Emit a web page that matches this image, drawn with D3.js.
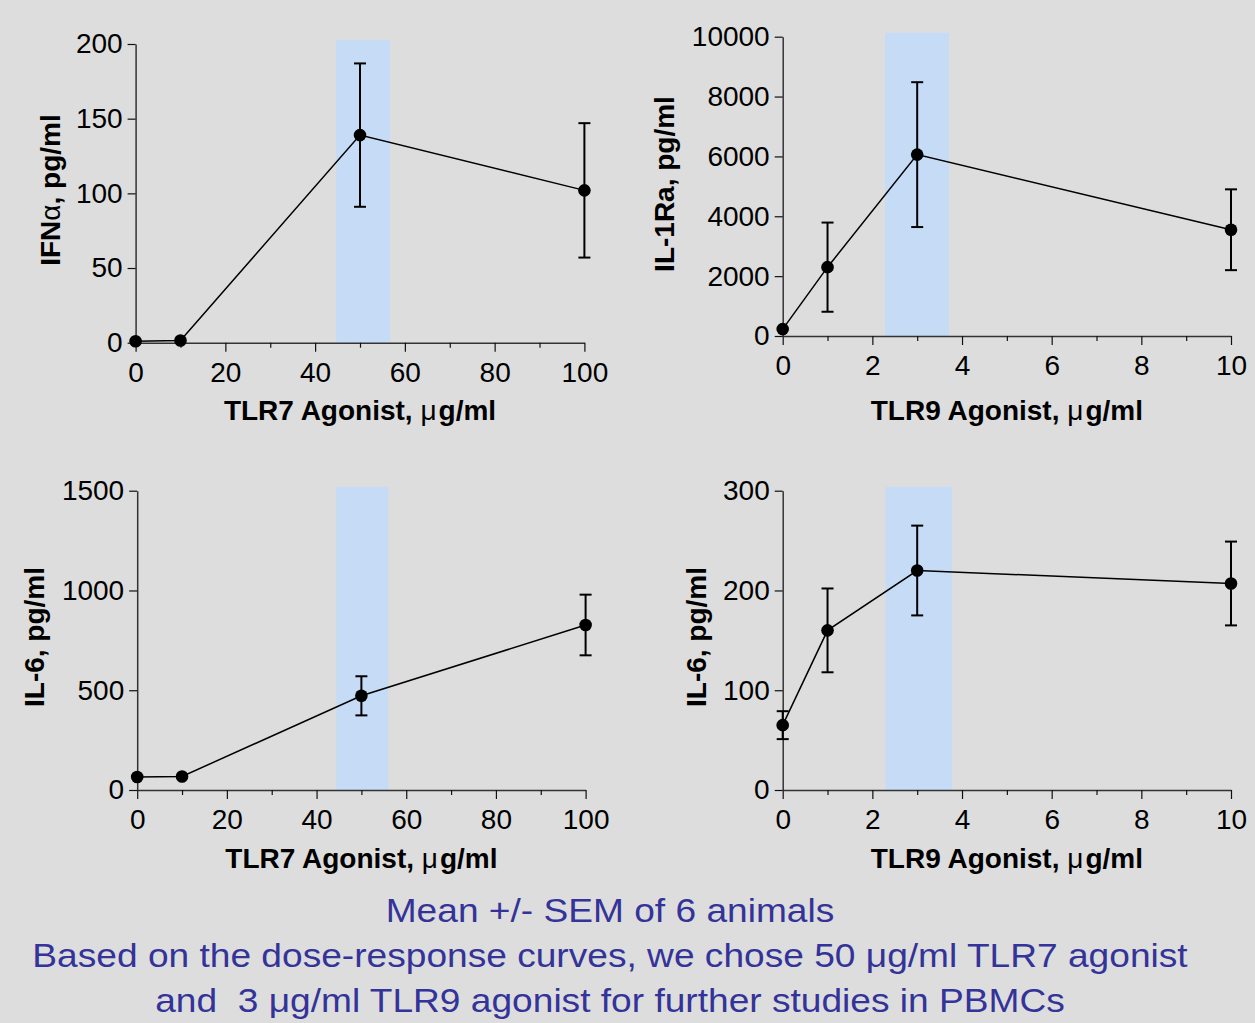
<!DOCTYPE html>
<html>
<head>
<meta charset="utf-8">
<script src="https://d3js.org/d3.v7.min.js"></script>
<style>
  body { margin: 0; background: #dddddd; }
  svg { display: block; font-family: Arial, "Liberation Sans", sans-serif; }
</style>
</head>
<body>
<div id="chart"></div>
<script>

// doses on the x axes
var tlr7Doses = [0, 10, 50, 100];
var tlr9Doses = [0, 1, 3, 10];

// mean and SEM for each panel
var ifnaMean = [1, 1.5, 139, 102];
var ifnaSem = [0, 0, 48, 45];
var il1raMean = [230, 2300, 6060, 3550];
var il1raSem = [0, 1490, 2420, 1350];
var il6Tlr7Mean = [65, 68, 472, 827];
var il6Tlr7Sem = [0, 0, 98, 152];
var il6Tlr9Mean = [65, 160, 220, 207];
var il6Tlr9Sem = [14, 42, 45, 42];

// highlighted dose window
var ifnaBand = [44.7, 56.7];
var il1raBand = [2.28, 3.71];
var il6Tlr7Band = [44.4, 56.0];
var il6Tlr9Band = [2.30, 3.78];

// tick values
var tlr7Ticks = [0, 20, 40, 60, 80, 100];
var tlr7Minor = [10, 30, 50, 70, 90];
var tlr9Ticks = [0, 2, 4, 6, 8, 10];
var tlr9Minor = [1, 3, 5, 7, 9];
var ifnaTicks = [0, 50, 100, 150, 200];
var il1raTicks = [0, 2000, 4000, 6000, 8000, 10000];
var il6Tlr7Ticks = [0, 500, 1000, 1500];
var il6Tlr9Ticks = [0, 100, 200, 300];

var footnotes = [
  "Mean +/- SEM of 6 animals",
  "Based on the dose-response curves, we chose 50 \u03bcg/ml TLR7 agonist",
  "and  3 \u03bcg/ml TLR9 agonist for further studies in PBMCs"
];

var width = 1255, height = 1023;

var svg = d3.select("#chart")
  .append("svg")
    .attr("width", width)
    .attr("height", height);

svg.append("rect")
  .attr("width", width)
  .attr("height", height)
  .style("fill", "#dddddd");

function drawPanel(p) {
  var x = d3.scaleLinear()
    .domain([0, d3.max(p.doses)])
    .range(p.xRange);
  var y = d3.scaleLinear()
    .domain([0, d3.max(p.yTicks)])
    .range(p.yRange);

  var g = svg.append("g");

  // blue band over the chosen dose
  g.append("rect")
    .attr("x", x(p.band[0]))
    .attr("width", x(p.band[1]) - x(p.band[0]))
    .attr("y", y.range()[1] - 4)
    .attr("height", y.range()[0] - y.range()[1] + 4)
    .style("fill", "#c6dcf6");

  // X axis, major then minor ticks
  g.append("g")
    .attr("transform", "translate(0," + p.yRange[0] + ")")
    .call(d3.axisBottom(x).tickValues(p.xTicks).tickSize(9).tickSizeOuter(0)
      .tickPadding(10).tickFormat(d3.format("d")));
  g.append("g")
    .attr("transform", "translate(0," + p.yRange[0] + ")")
    .call(d3.axisBottom(x).tickValues(p.xMinor).tickSize(5).tickFormat(""))
    .select(".domain").remove();

  // Y axis
  g.append("g")
    .attr("transform", "translate(" + p.xRange[0] + ",0)")
    .call(d3.axisLeft(y).tickValues(p.yTicks).tickSize(8).tickSizeOuter(0)
      .tickPadding(5).tickFormat(d3.format("d")));

  g.selectAll(".domain").style("stroke", "#333").style("stroke-width", 1.5);
  g.selectAll(".tick line").style("stroke", "#111").style("stroke-width", 1.2);
  g.selectAll(".tick text")
    .style("font-size", "28px")
    .style("fill", "#000");

  // x-axis label
  var xt = g.append("text")
    .attr("x", (p.xRange[0] + p.xRange[1]) / 2)
    .attr("y", p.xTitleY)
    .style("text-anchor", "middle")
    .style("white-space", "pre")
    .style("font-size", "28px")
    .style("font-weight", "bold");
  xt.append("tspan").text(p.xLabel[0]);
  xt.append("tspan").style("font-weight", "normal").text(p.xLabel[1]);
  xt.append("tspan").attr("dx", 2).text(p.xLabel[2]);

  // y-axis label
  var yt = g.append("text")
    .attr("transform", "translate(" + p.yTitleX + "," + p.yTitleY + ") rotate(-90)")
    .style("text-anchor", "middle")
    .style("white-space", "pre")
    .style("font-size", "28px")
    .style("font-weight", "bold");
  p.yLabel.forEach(function(s, i) {
    yt.append("tspan").style("font-weight", i == 1 ? "normal" : "bold").text(s);
  });

  var data = p.doses.map(function(d, i) {
    return {dose: d, mean: p.mean[i], sem: p.sem[i]};
  });

  // connecting line
  var line = d3.line()
    .x(function(d) { return x(d.dose); })
    .y(function(d) { return y(d.mean); });
  g.append("path")
    .datum(data)
    .attr("d", line)
    .style("fill", "none")
    .style("stroke", "#000")
    .style("stroke-width", 1.5);

  // error bars
  var err = g.selectAll(".err")
    .data(data.filter(function(d) { return d.sem > 0; }))
    .enter()
    .append("g")
      .attr("class", "err")
      .style("stroke", "#000")
      .style("stroke-width", 2);
  err.append("line")
    .attr("x1", function(d) { return x(d.dose); })
    .attr("x2", function(d) { return x(d.dose); })
    .attr("y1", function(d) { return y(d.mean + d.sem); })
    .attr("y2", function(d) { return y(d.mean - d.sem); });
  err.selectAll(".cap")
    .data(function(d) { return [[d.dose, d.mean + d.sem], [d.dose, d.mean - d.sem]]; })
    .enter()
    .append("line")
      .attr("x1", function(d) { return x(d[0]) - 6; })
      .attr("x2", function(d) { return x(d[0]) + 6; })
      .attr("y1", function(d) { return y(d[1]); })
      .attr("y2", function(d) { return y(d[1]); });

  // points
  g.selectAll("circle")
    .data(data)
    .enter()
    .append("circle")
      .attr("cx", function(d) { return x(d.dose); })
      .attr("cy", function(d) { return y(d.mean); })
      .attr("r", 6.3)
      .style("fill", "#000");
}

drawPanel({
  doses: tlr7Doses, mean: ifnaMean, sem: ifnaSem, band: ifnaBand,
  xTicks: tlr7Ticks, xMinor: tlr7Minor, yTicks: ifnaTicks,
  xRange: [135.6, 584.4], yRange: [342.7, 44],
  xLabel: ["TLR7 Agonist, ", "\u03bc", "g/ml"], xTitleY: 420,
  yLabel: ["IFN", "\u03b1", ", pg/ml"], yTitleX: 60, yTitleY: 190
});
drawPanel({
  doses: tlr9Doses, mean: il1raMean, sem: il1raSem, band: il1raBand,
  xTicks: tlr9Ticks, xMinor: tlr9Minor, yTicks: il1raTicks,
  xRange: [782.7, 1231], yRange: [336, 36.7],
  xLabel: ["TLR9 Agonist, ", "\u03bc", "g/ml"], xTitleY: 420,
  yLabel: ["IL-1Ra, pg/ml"], yTitleX: 674, yTitleY: 184
});
drawPanel({
  doses: tlr7Doses, mean: il6Tlr7Mean, sem: il6Tlr7Sem, band: il6Tlr7Band,
  xTicks: tlr7Ticks, xMinor: tlr7Minor, yTicks: il6Tlr7Ticks,
  xRange: [137.2, 585.6], yRange: [790, 490.7],
  xLabel: ["TLR7 Agonist, ", "\u03bc", "g/ml"], xTitleY: 868,
  yLabel: ["IL-6, pg/ml"], yTitleX: 44, yTitleY: 637
});
drawPanel({
  doses: tlr9Doses, mean: il6Tlr9Mean, sem: il6Tlr9Sem, band: il6Tlr9Band,
  xTicks: tlr9Ticks, xMinor: tlr9Minor, yTicks: il6Tlr9Ticks,
  xRange: [782.7, 1231], yRange: [790, 490.7],
  xLabel: ["TLR9 Agonist, ", "\u03bc", "g/ml"], xTitleY: 868,
  yLabel: ["IL-6, pg/ml"], yTitleX: 706, yTitleY: 637
});

// footnote text
svg.selectAll(".note")
  .data(footnotes)
  .enter()
  .append("text")
    .attr("class", "note")
    .attr("transform", function(d, i) { return "translate(610," + (922 + i * 45) + ") scale(1.125,1)"; })
    .style("text-anchor", "middle")
    .style("white-space", "pre")
    .style("font-size", "33px")
    .style("fill", "#333399")
    .text(function(d) { return d; });

</script>
</body>
</html>
